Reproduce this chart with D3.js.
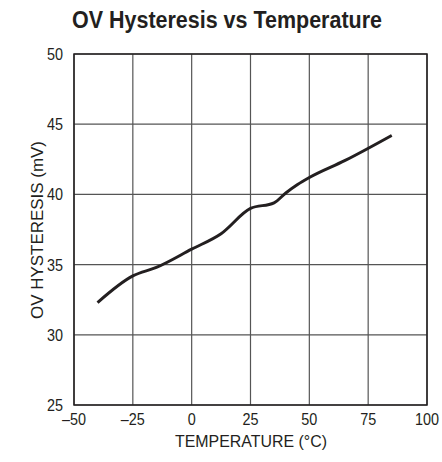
<!DOCTYPE html>
<html>
<head>
<meta charset="utf-8">
<script src="https://cdn.jsdelivr.net/npm/d3@7"></script>
<style>
  body { margin: 0; background: #fff; }
  text { font-family: "Liberation Sans", Arial, sans-serif; fill: #231f20; }
</style>
</head>
<body>
<svg id="chart" width="442" height="462"></svg>
<script>
'use strict';

// temperature (°C) and OV hysteresis (mV)
const temps = [-40, -25, -15, 0, 12.5, 25, 35, 40, 45, 50, 65, 85];
const hyst = [32.3, 34.2, 34.8, 36.1, 37.2, 39.0, 39.4, 40.1, 40.7, 41.2, 42.4, 44.2];
const xTicks = [-50, -25, 0, 25, 50, 75, 100];
const yTicks = [25, 30, 35, 40, 45, 50];

let svg = d3.select("#chart"),
	margin = {top: 54, right: 15, bottom: 57, left: 74},
	width = +svg.attr("width") - margin.left - margin.right,
	height = +svg.attr("height") - margin.top - margin.bottom,
	g = svg.append("g").attr("transform", "translate(" + margin.left + "," + margin.top + ")");

let x = d3.scaleLinear().domain([-50, 100]).range([0, width]);
let y = d3.scaleLinear().domain([25, 50]).range([height, 0]);

// grid
g.append("g")
	.selectAll("line")
	.data(xTicks)
	.enter().append("line")
	.attr("x1", d => x(d)).attr("x2", d => x(d))
	.attr("y1", 0).attr("y2", height)
	.attr("stroke", "#555").attr("stroke-width", 1.2);

g.append("g")
	.selectAll("line")
	.data(yTicks)
	.enter().append("line")
	.attr("x1", 0).attr("x2", width)
	.attr("y1", d => y(d)).attr("y2", d => y(d))
	.attr("stroke", "#555").attr("stroke-width", 1.2);

g.append("rect")
	.attr("width", width).attr("height", height)
	.attr("fill", "none").attr("stroke", "#231f20").attr("stroke-width", 1.5);

// tick labels (narrow look via a horizontal squeeze)
g.selectAll(".xlab")
	.data(xTicks)
	.enter().append("text")
	.attr("class", "xlab")
	.attr("transform", d => "translate(" + x(d) + "," + (height + 20) + ") scale(0.9,1)")
	.attr("text-anchor", "middle")
	.style("font-size", "16px")
	.text(d => d < 0 ? "\u2013" + Math.abs(d) : d);

g.selectAll(".ylab")
	.data(yTicks)
	.enter().append("text")
	.attr("class", "ylab")
	.attr("transform", d => "translate(-11," + (y(d) + 6) + ") scale(0.9,1)")
	.attr("text-anchor", "end")
	.style("font-size", "16px")
	.text(d => d);

// the curve
let line = d3.line()
	.x((d, i) => x(temps[i]))
	.y(d => y(d))
	.curve(d3.curveMonotoneX);

g.append("path")
	.datum(hyst)
	.attr("fill", "none")
	.attr("stroke", "#231f20")
	.attr("stroke-width", 3)
	.attr("stroke-linejoin", "round")
	.attr("d", line);

// titles
svg.append("text")
	.attr("x", 72).attr("y", 28)
	.attr("textLength", 310).attr("lengthAdjust", "spacingAndGlyphs")
	.style("font-size", "23px").style("font-weight", "bold")
	.text("OV Hysteresis vs Temperature");

svg.append("text")
	.attr("x", 175).attr("y", 447)
	.attr("textLength", 152).attr("lengthAdjust", "spacingAndGlyphs")
	.style("font-size", "17px")
	.text("TEMPERATURE (\u00B0C)");

svg.append("text")
	.attr("transform", "translate(43,319) rotate(-90)")
	.attr("textLength", 178).attr("lengthAdjust", "spacingAndGlyphs")
	.style("font-size", "17px")
	.text("OV HYSTERESIS (mV)");
</script>
</body>
</html>
